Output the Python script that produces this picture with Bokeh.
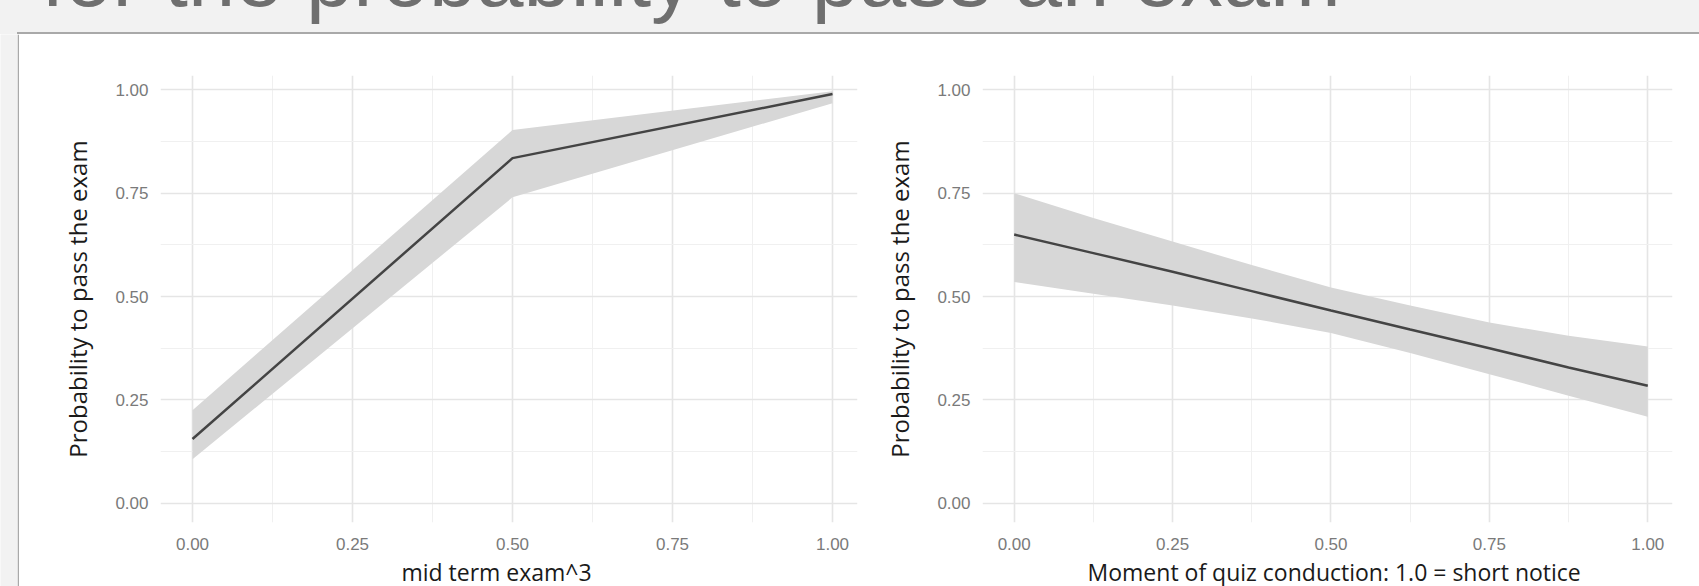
from bokeh.plotting import figure
from bokeh.layouts import column, row
from bokeh.models import Range1d, FixedTicker, Label, NumeralTickFormatter, Div
from bokeh.embed import file_html
from bokeh.resources import INLINE

# ---------------- data ----------------
title_text = "for the probability to pass an exam"
y_title = "Probability to pass the exam"
left_x_title = "mid term exam^3"
right_x_title = "Moment of quiz conduction: 1.0 = short notice"

tick_values = [0.0, 0.25, 0.5, 0.75, 1.0]
tick_labels = ["0.00", "0.25", "0.50", "0.75", "1.00"]
minor_values = [0.125, 0.375, 0.625, 0.875]

left_x = [0.0, 0.5, 1.0]
left_fit = [0.155, 0.835, 0.990]
left_lower = [0.106, 0.740, 0.968]
left_upper = [0.225, 0.903, 0.997]

right_x = [0.0, 0.125, 0.25, 0.375, 0.5, 0.625, 0.75, 0.875, 1.0]
right_fit = [0.650, 0.605, 0.560, 0.513, 0.466, 0.420, 0.375, 0.328, 0.284]
right_upper = [0.750, 0.690, 0.633, 0.576, 0.522, 0.478, 0.437, 0.405, 0.379]
right_lower = [0.535, 0.507, 0.478, 0.447, 0.412, 0.363, 0.312, 0.260, 0.209]

# ---------------- style ----------------
PANEL_GREY = "#f2f2f2"
EDGE = "#a9a9a9"
BAND = "#d7d7d7"
LINE = "#444444"
TITLE_FONT = "Open Sans"
X_RANGE = (-0.05, 1.039)
Y_RANGE = (-0.047, 1.035)


def bare(width, height, **kw):
    opts = dict(width=width, height=height, toolbar_location=None, output_backend="svg",
                x_axis_type=None, y_axis_type=None, outline_line_color=None,
                min_border_left=0, min_border_right=0, min_border_top=0, min_border_bottom=0)
    opts.update(kw)
    return figure(**opts)


def chart(width, mb_left, mb_right, xs, fit, lo, hi):
    p = figure(width=width, height=522,
               x_range=Range1d(*X_RANGE), y_range=Range1d(*Y_RANGE),
               toolbar_location=None, output_backend="svg",
               min_border_left=mb_left, min_border_right=mb_right,
               min_border_top=41, min_border_bottom=34,
               background_fill_color="white", border_fill_color="white",
               outline_line_color=None)
    ticker = FixedTicker(ticks=tick_values, minor_ticks=minor_values)
    overrides = dict(zip(tick_values, tick_labels))
    for ax in (p.xaxis[0], p.yaxis[0]):
        ax.ticker = ticker
        ax.formatter = NumeralTickFormatter(format="0.00")
        ax.major_label_overrides = overrides
        ax.axis_line_color = None
        ax.major_tick_line_color = None
        ax.minor_tick_line_color = None
        ax.major_tick_out = 0
        ax.major_tick_in = 0
        ax.major_label_text_font = "Liberation Sans"
        ax.major_label_text_font_size = "17px"
        ax.major_label_text_color = "#7a7a7a"
    p.xaxis[0].major_label_standoff = 11
    p.yaxis[0].major_label_standoff = 8
    p.yaxis[0].axis_label = y_title
    p.yaxis[0].axis_label_text_font = TITLE_FONT
    p.yaxis[0].axis_label_text_font_size = "24px"
    p.yaxis[0].axis_label_text_font_style = "normal"
    p.yaxis[0].axis_label_text_color = "#1a1a1a"
    p.yaxis[0].axis_label_standoff = 18
    for g in (p.xgrid[0], p.ygrid[0]):
        g.ticker = ticker
        g.grid_line_color = "#e5e5e5"
        g.grid_line_width = 1.6
        g.minor_grid_line_color = "#f0f0f0"
        g.minor_grid_line_width = 1.1
    p.varea(x=xs, y1=lo, y2=hi, fill_color=BAND, fill_alpha=1.0)
    p.line(xs, fit, line_color=LINE, line_width=2.5)
    return p


def title_strip(ref_fig, width, mb_left, mb_right, text, center):
    t = bare(width, 30, x_range=ref_fig.x_range, y_range=Range1d(0, 1),
             min_border_left=mb_left, min_border_right=mb_right,
             background_fill_color="white", border_fill_color="white")
    t.add_layout(Label(x=center, y=15, x_units="data", y_units="screen",
                       text=text, text_font=TITLE_FONT, text_font_size="23px",
                       text_color="#1a1a1a", text_align="center",
                       text_baseline="alphabetic"))
    return t


# top strip: slide title (only its lowest part is visible, as in the source) and panel top edge
title_svg = (
    '<svg xmlns="http://www.w3.org/2000/svg" width="1699" height="34" style="display:block">'
    f'<rect x="0" y="0" width="1699" height="34" fill="{PANEL_GREY}"/>'
    '<text x="41.5" y="5.5" font-family="Lato" font-size="85" fill="#6f6f6f">'
    f'{title_text}</text>'
    f'<rect x="17" y="32" width="1682" height="2" fill="{EDGE}"/>'
    '</svg>'
)
top_div = Div(text=title_svg, width=1699, height=34, margin=0)

# left grey strip with the panel's left edge
left_strip = bare(19, 552, background_fill_color=PANEL_GREY, border_fill_color=EDGE,
                  min_border_right=2)

left_fig = chart(861, 141, 23, left_x, left_fit, left_lower, left_upper)
right_fig = chart(819, 95, 27, right_x, right_fit, right_lower, right_upper)

left_xt = title_strip(left_fig, 861, 141, 23, left_x_title, 0.475)
right_xt = title_strip(right_fig, 819, 95, 27, right_x_title, 0.505)

layout = column(top_div,
                row(left_strip, column(left_fig, left_xt), column(right_fig, right_xt)))

open("out.html", "w").write(file_html(layout, INLINE))
